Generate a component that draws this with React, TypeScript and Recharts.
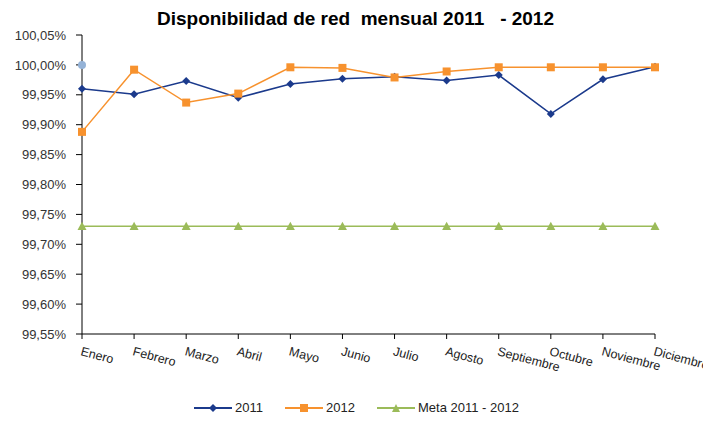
import React from "react";
import { LineChart, Line, XAxis, YAxis } from "recharts";

const months = ["Enero","Febrero","Marzo","Abril","Mayo","Junio","Julio","Agosto","Septiembre","Octubre","Noviembre","Diciembre"];
const s2011 = [99.960, 99.951, 99.973, 99.945, 99.968, 99.977, 99.980, 99.974, 99.983, 99.918, 99.976, 99.997];
const s2012 = [99.888, 99.992, 99.937, 99.952, 99.996, 99.995, 99.979, 99.989, 99.996, 99.996, 99.996, 99.996];
const meta = [99.73, 99.73, 99.73, 99.73, 99.73, 99.73, 99.73, 99.73, 99.73, 99.73, 99.73, 99.73];
const extra: (number | null)[] = [100.0, null, null, null, null, null, null, null, null, null, null, null];
const yTicks = [99.55, 99.6, 99.65, 99.7, 99.75, 99.8, 99.85, 99.9, 99.95, 100.0, 100.05];
const legendItems = [
  { label: "2011", key: "a", mark: "d" },
  { label: "2012", key: "b", mark: "s" },
  { label: "Meta 2011 - 2012", key: "c", mark: "t" },
];

const data = months.map((m, i) => ({ m, a: s2011[i], b: s2012[i], c: meta[i], d: extra[i] }));

const C2011 = "#1B3A8C";
const C2012 = "#F7922E";
const CMETA = "#9BBB59";
const CEXTRA = "#95B3D7";
const COLORS: Record<string, string> = { a: C2011, b: C2012, c: CMETA };
const FONT = "'Liberation Sans', Arial, sans-serif";

const Diamond = (p: any) => {
  const { cx, cy } = p;
  if (cx == null || cy == null) return null;
  const r = 4;
  return <path key={p.index} d={`M${cx},${cy - r}L${cx + r},${cy}L${cx},${cy + r}L${cx - r},${cy}Z`} fill={C2011} />;
};
const Square = (p: any) => {
  const { cx, cy } = p;
  if (cx == null || cy == null) return null;
  const r = 4;
  return <rect key={p.index} x={cx - r} y={cy - r} width={2 * r} height={2 * r} fill={C2012} />;
};
const Tri = (p: any) => {
  const { cx, cy } = p;
  if (cx == null || cy == null) return null;
  const r = 4.5;
  return <path key={p.index} d={`M${cx},${cy - r}L${cx + r},${cy + r * 0.8}L${cx - r},${cy + r * 0.8}Z`} fill={CMETA} />;
};
const Circ = (p: any) => {
  const { cx, cy, value } = p;
  if (cx == null || cy == null || value == null) return null;
  return <circle key={p.index} cx={cx} cy={cy} r={4} fill={CEXTRA} />;
};

const XTick = (p: any) => {
  const { x, y, payload } = p;
  const tx = x - 2;
  const ty = y + 14;
  return (
    <text x={tx} y={ty} transform={`rotate(15, ${tx}, ${ty})`} textAnchor="start" fontSize={12.5} fill="#222" fontFamily={FONT}>
      {payload.value}
    </text>
  );
};

const fmt = (v: number) => v.toFixed(2).replace(".", ",") + "%";

const LegendBox = () => (
  <div style={{ position: "absolute", left: 0, top: 392, width: 695, display: "flex", justifyContent: "center", gap: 22, fontFamily: FONT, fontSize: 13, lineHeight: "15px", color: "#222", paddingLeft: 2, boxSizing: "border-box" }}>
    {legendItems.map((it) => {
      const color = COLORS[it.key];
      return (
        <div key={it.label} style={{ display: "flex", alignItems: "center", gap: 3 }}>
          <svg width={38} height={10}>
            <line x1={0} y1={5} x2={38} y2={5} stroke={color} strokeWidth={2} />
            {it.mark === "d" && <path d="M19,1L23,5L19,9L15,5Z" fill={color} />}
            {it.mark === "s" && <rect x={15} y={1} width={8} height={8} fill={color} />}
            {it.mark === "t" && <path d="M19,1L23,9L15,9Z" fill={color} />}
          </svg>
          <span>{it.label}</span>
        </div>
      );
    })}
  </div>
);

export default function App() {
  return (
    <div style={{ position: "relative", width: 695, height: 406 }}>
      <style>{".recharts-surface{overflow:visible}"}</style>
      <div style={{ position: "absolute", left: 0, top: 0, width: 695, textAlign: "center", fontFamily: FONT, fontWeight: "bold", fontSize: 19, color: "#000", whiteSpace: "pre", lineHeight: "22px" }}>
        {"Disponibilidad de red  mensual 2011   - 2012"}
      </div>
      <LineChart width={695} height={406} data={data} margin={{ top: 27, right: 48, bottom: 0, left: 0 }}>
        <XAxis dataKey="m" tick={<XTick />} tickLine={{ stroke: "#000" }} axisLine={{ stroke: "#000" }} tickSize={5} interval={0} height={80} padding={{ left: 0, right: 0 }} />
        <YAxis
          domain={[99.55, 100.05]}
          ticks={yTicks}
          tickFormatter={fmt}
          width={74}
          tick={{ fontSize: 13, fill: "#333", fontFamily: FONT, dx: -8 }}
          tickLine={{ stroke: "#000" }}
          axisLine={{ stroke: "#000" }}
          tickSize={6}
          allowDataOverflow
        />
        <Line dataKey="c" name="Meta 2011 - 2012" stroke={CMETA} strokeWidth={1.5} dot={<Tri />} isAnimationActive={false} />
        <Line dataKey="a" name="2011" stroke={C2011} strokeWidth={1.5} dot={<Diamond />} isAnimationActive={false} />
        <Line dataKey="b" name="2012" stroke={C2012} strokeWidth={1.5} dot={<Square />} isAnimationActive={false} />
        <Line dataKey="d" stroke="none" dot={<Circ />} isAnimationActive={false} />
      </LineChart>
      <LegendBox />
    </div>
  );
}
